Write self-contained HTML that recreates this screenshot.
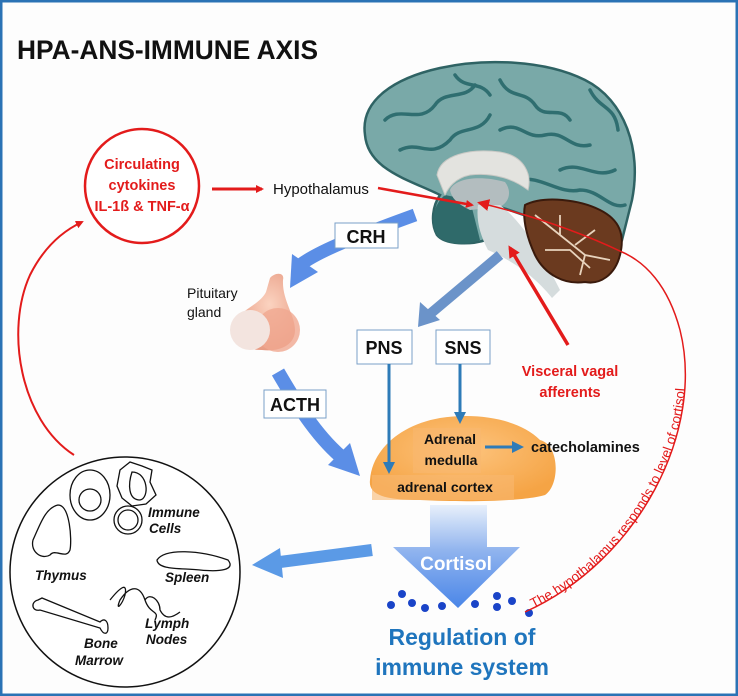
<!DOCTYPE html>
<html><head><meta charset="utf-8"><style>
html,body{margin:0;padding:0;background:#fff}
svg{display:block;font-family:"Liberation Sans",Arial,sans-serif}
</style></head><body>
<svg width="738" height="696" viewBox="0 0 738 696" xmlns="http://www.w3.org/2000/svg">
<defs>
<marker id="ra" markerWidth="8" markerHeight="8" refX="6" refY="4" orient="auto" markerUnits="userSpaceOnUse"><path d="M0,0 L8,4 L0,8 z" fill="#e31b1b"/></marker>
<marker id="rb" markerWidth="12" markerHeight="12" refX="9" refY="6" orient="auto" markerUnits="userSpaceOnUse"><path d="M0,0 L12,6 L0,12 z" fill="#e31b1b"/></marker>
<marker id="ba" markerWidth="12" markerHeight="12" refX="8" refY="6" orient="auto" markerUnits="userSpaceOnUse"><path d="M0,0 L12,6 L0,12 z" fill="#2e7bb8"/></marker>
<linearGradient id="cg" x1="0" y1="0" x2="0" y2="1"><stop offset="0" stop-color="#e8f0fb"/><stop offset="0.45" stop-color="#8fb3ee"/><stop offset="1" stop-color="#4a86e8"/></linearGradient>
<radialGradient id="og" cx="0.5" cy="0.4" r="0.6"><stop offset="0" stop-color="#fdc47e"/><stop offset="1" stop-color="#f5a445"/></radialGradient>
<radialGradient id="pg" cx="0.6" cy="0.4" r="0.6"><stop offset="0" stop-color="#fbd3c0"/><stop offset="1" stop-color="#e89c84"/></radialGradient>
<path id="tp" d="M525,612 C640,560 705,430 680,330 C668,285 645,262 622,252"/>
</defs>
<rect x="1" y="1" width="736" height="694" fill="#fdfdfd" stroke="#2b73b5" stroke-width="3"/>
<text x="17" y="59" font-size="27" font-weight="bold" fill="#111" textLength="301" lengthAdjust="spacingAndGlyphs">HPA-ANS-IMMUNE  AXIS</text>

<!-- brain -->
<path d="M365,135 C360,100 395,78 440,68 C485,58 545,60 585,80 C625,100 642,150 632,200 L622,240 L540,220 C520,215 500,205 488,205 L486,240 C470,245 445,245 437,235 C430,222 433,205 440,195 C410,180 368,170 365,135 z" fill="#79a9a8" stroke="#2f6364" stroke-width="2.5"/>
<g fill="none" stroke="#2f6e70" stroke-width="3.5" stroke-linecap="round">
<path d="M385,120 C400,105 420,125 435,105 C445,90 465,100 475,85"/>
<path d="M400,150 C420,140 430,160 450,140 C460,125 480,135 490,115"/>
<path d="M500,80 C510,100 525,90 535,105 C545,120 560,105 570,120"/>
<path d="M500,130 C520,120 525,140 545,135 C565,130 570,150 590,145"/>
<path d="M590,90 C600,110 615,105 618,130"/>
<path d="M560,170 C580,160 595,180 615,170"/>
<path d="M520,180 C540,175 560,195 580,190 C600,190 610,210 625,205"/>
<path d="M455,75 C465,90 480,80 490,95"/>
</g>
<path d="M437,235 C430,222 433,205 445,195 L470,200 L480,240 C465,246 445,245 437,235 z" fill="#2f6a6a"/>
<path d="M437,175 C440,155 470,148 500,152 C525,156 532,175 528,190 C515,180 495,172 470,175 C455,178 448,188 445,195 z" fill="#e3e3df" stroke="#c9c9c5"/>
<path d="M450,190 C455,178 480,175 505,182 C515,195 505,210 490,208 L470,210 C460,205 452,200 450,190 z" fill="#b3bdbf"/>
<path d="M478,205 L500,205 C520,220 540,250 560,290 L552,298 C530,270 500,255 488,250 C480,235 476,220 478,205 z" fill="#d5dcdd"/>
<path d="M525,205 C545,195 580,200 600,210 C620,220 625,235 620,255 C615,275 600,285 585,282 C565,285 545,275 535,255 C528,240 522,220 525,205 z" fill="#6b3a1f" stroke="#3a1a0c" stroke-width="2"/>
<g stroke="#e8d3bd" stroke-width="1.8" fill="none">
<path d="M535,215 L560,235 L585,255 L610,260 M560,235 L560,215 M575,245 L595,230 M585,255 L580,275 M545,250 L570,250 L590,268"/>
</g>

<!-- red circle -->
<circle cx="142" cy="186" r="57" fill="#fff" stroke="#e31b1b" stroke-width="2.5"/>
<g fill="#e31b1b" font-weight="bold" font-size="14.5" text-anchor="middle">
<text x="142" y="169">Circulating</text><text x="142" y="190">cytokines</text><text x="142" y="211">IL-1ß &amp; TNF-α</text></g>
<line x1="212" y1="189" x2="262" y2="189" stroke="#e31b1b" stroke-width="3" marker-end="url(#ra)"/>
<text x="273" y="194" font-size="15" fill="#111">Hypothalamus</text>
<path d="M378,188 L472,205" stroke="#e31b1b" stroke-width="2.5" marker-end="url(#ra)"/>
<path d="M568,345 L510,248" stroke="#e31b1b" stroke-width="3.5" marker-end="url(#rb)"/>
<g fill="#e31b1b" font-weight="bold" font-size="14.5" text-anchor="middle"><text x="570" y="376">Visceral  vagal</text><text x="570" y="397">afferents</text></g>

<!-- CRH -->
<path d="M415,215 C360,235 320,250 300,265" stroke="#5b8ee6" stroke-width="13" fill="none"/>
<path d="M290,288 L292,254 L318,272 z" fill="#5b8ee6"/>
<rect x="335" y="223" width="63" height="25" fill="#fff" stroke="#7aa0c8"/>
<text x="366" y="243" font-size="18" font-weight="bold" text-anchor="middle" fill="#111">CRH</text>

<!-- pituitary -->
<path d="M270,278 C275,272 285,272 283,280 C282,300 295,315 295,330 C295,345 280,352 262,350 C240,350 228,340 232,325 C236,312 260,305 266,292 z" fill="url(#pg)"/>
<ellipse cx="278" cy="330" rx="22" ry="22" fill="#f0a890" opacity="0.8"/>
<ellipse cx="250" cy="330" rx="20" ry="20" fill="#f3e4df"/>
<text x="187" y="298" font-size="14" fill="#111">Pituitary</text><text x="187" y="317" font-size="14" fill="#111">gland</text>

<!-- ACTH -->
<path d="M278,372 C300,410 320,440 345,460" stroke="#5b8ee6" stroke-width="14" fill="none"/>
<path d="M360,476 L328,465 L350,443 z" fill="#5b8ee6"/>
<rect x="264" y="390" width="62" height="28" fill="#fff" stroke="#7aa0c8"/>
<text x="295" y="411" font-size="18" font-weight="bold" text-anchor="middle" fill="#111">ACTH</text>

<!-- brain to PNS -->
<path d="M500,255 L430,314" stroke="#6b93c9" stroke-width="10"/>
<path d="M418,327 L420,302 L440,320 z" fill="#6b93c9"/>

<!-- adrenal -->
<path d="M370,480 C372,450 400,425 440,418 C480,412 520,420 540,440 C560,445 560,485 545,495 C530,500 480,503 420,500 C385,500 368,495 370,480 z" fill="url(#og)"/>
<rect x="413" y="428" width="68" height="45" fill="#f9b870" opacity="0.6"/>
<rect x="372" y="475" width="142" height="25" fill="#f9b870" opacity="0.6"/>
<g font-weight="bold" font-size="14" text-anchor="middle" fill="#111">
<text x="450" y="444">Adrenal</text><text x="451" y="465">medulla</text><text x="445" y="492">adrenal  cortex</text></g>
<line x1="485" y1="447" x2="520" y2="447" stroke="#2e7bb8" stroke-width="3" marker-end="url(#ba)"/>
<text x="531" y="452" font-size="14.5" font-weight="bold" fill="#111">catecholamines</text>

<!-- PNS SNS -->
<rect x="357" y="330" width="55" height="34" fill="#fff" stroke="#7aa0c8"/>
<text x="384" y="354" font-size="18" font-weight="bold" text-anchor="middle" fill="#111">PNS</text>
<rect x="436" y="330" width="54" height="34" fill="#fff" stroke="#7aa0c8"/>
<text x="463" y="354" font-size="18" font-weight="bold" text-anchor="middle" fill="#111">SNS</text>
<line x1="389" y1="364" x2="389" y2="470" stroke="#2e7bb8" stroke-width="3" marker-end="url(#ba)"/>
<line x1="460" y1="364" x2="460" y2="420" stroke="#2e7bb8" stroke-width="3" marker-end="url(#ba)"/>

<!-- cortisol -->
<path d="M430,505 L487,505 L487,547 L520,547 L458,608 L393,547 L430,547 z" fill="url(#cg)"/>
<text x="456" y="570" font-size="19" font-weight="bold" text-anchor="middle" fill="#fff">Cortisol</text>
<g fill="#1a44c8">
<circle cx="402" cy="594" r="4"/><circle cx="391" cy="605" r="4"/><circle cx="412" cy="603" r="4"/><circle cx="425" cy="608" r="4"/><circle cx="442" cy="606" r="4"/><circle cx="475" cy="604" r="4"/><circle cx="497" cy="596" r="4"/><circle cx="497" cy="607" r="4"/><circle cx="512" cy="601" r="4"/><circle cx="529" cy="613" r="4"/></g>
<g fill="#1f75bd" font-weight="bold" font-size="23" text-anchor="middle"><text x="462" y="645">Regulation of</text><text x="462" y="675">immune system</text></g>

<!-- arrow to immune circle -->
<path d="M372,550 L280,562" stroke="#5b9ae6" stroke-width="12"/>
<path d="M252,565 L280,548 L283,578 z" fill="#5b9ae6"/>

<!-- red feedback curve with text -->
<path d="M525,612 C640,560 705,430 680,330 C668,285 645,262 622,252 C580,232 530,215 480,203" fill="none" stroke="#e31b1b" stroke-width="1.5" marker-end="url(#rb)"/>
<text font-size="13.5" fill="#e31b1b"><textPath href="#tp" startOffset="2%">The hypothalamus responds to level of cortisol</textPath></text>

<!-- left red arc -->
<path d="M74,455 C20,420 5,330 30,275 C45,245 65,230 82,222" fill="none" stroke="#e31b1b" stroke-width="2" marker-end="url(#ra)"/>

<!-- immune circle -->
<circle cx="125" cy="572" r="115" fill="#fff" stroke="#111" stroke-width="1.5"/>
<g fill="none" stroke="#111" stroke-width="1.3">
<ellipse cx="90" cy="495" rx="20" ry="25"/><circle cx="90" cy="500" r="11"/>
<path d="M120,470 L130,462 L142,466 L152,470 L150,482 L156,495 L146,504 L132,506 L122,498 L117,486 z"/><path d="M132,472 C148,472 150,498 140,500 C128,500 128,484 132,472 z"/>
<circle cx="128" cy="520" r="14"/><circle cx="128" cy="520" r="10"/>
<path d="M58,505 C70,505 72,540 70,550 C66,560 55,548 50,555 C42,560 30,552 33,540 C40,525 45,508 58,505 z"/>
<path d="M157,560 C165,548 200,550 228,560 C236,570 220,572 200,570 C180,568 158,570 157,560 z"/>
<path d="M110,600 C118,590 128,580 125,595 C122,605 115,612 120,600 C130,585 140,585 145,600 C150,615 160,610 155,620 M145,600 C150,592 160,600 160,610 C165,620 172,618 180,612"/>
<path d="M38,600 C30,602 32,612 40,610 L100,628 C104,636 108,634 108,628 C108,620 104,618 100,622 L42,598 z"/>
</g>
<g font-style="italic" font-weight="bold" font-size="13.5" fill="#111">
<text x="148" y="517">Immune</text><text x="149" y="533">Cells</text>
<text x="35" y="580">Thymus</text><text x="165" y="582">Spleen</text>
<text x="145" y="628">Lymph</text><text x="146" y="644">Nodes</text>
<text x="84" y="648">Bone</text><text x="75" y="665">Marrow</text></g>
</svg>
</body></html>
